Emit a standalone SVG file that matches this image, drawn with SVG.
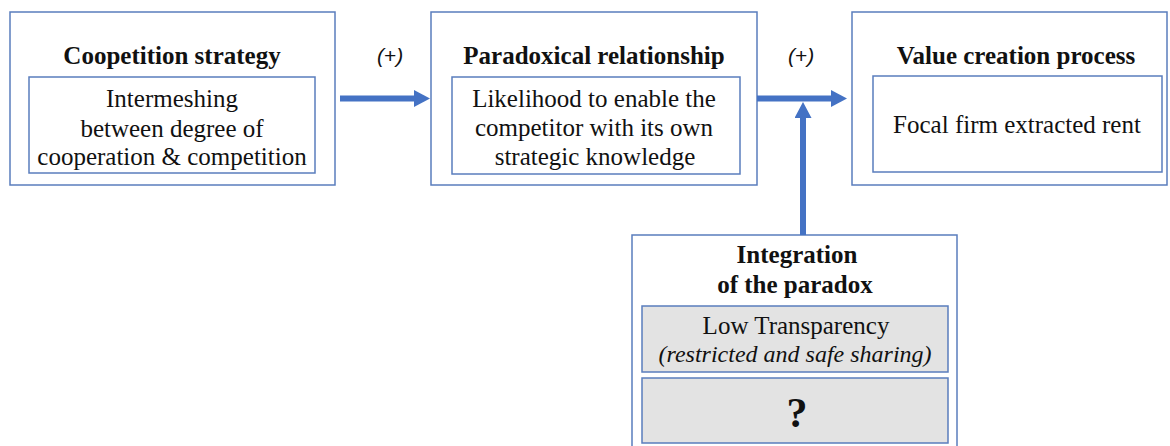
<svg xmlns="http://www.w3.org/2000/svg" width="1170" height="446" viewBox="0 0 1170 446">
<style>
.box{fill:#fff;stroke:#5a7dbd;stroke-width:1.5}
.gbox{fill:#e3e3e3;stroke:#5a7dbd;stroke-width:1.5}
.ln{stroke:#4472c4;stroke-width:6;fill:none}
.lbl{font-family:"Liberation Sans",sans-serif;font-style:italic;font-size:21px;fill:#111;text-anchor:middle}
</style>
<defs>
<marker id="ah" markerWidth="16" markerHeight="17" refX="1" refY="8.5" orient="auto" markerUnits="userSpaceOnUse">
<path d="M0,0 L16,8.5 L0,17 Z" fill="#4472c4"/>
</marker>
</defs>
<rect width="1170" height="446" fill="#fff"/>
<g font-family="Liberation Serif, serif" font-size="25" fill="#111" text-anchor="middle">
<g id="coopetition">
<rect class="box" x="10" y="12" width="325" height="173"/>
<text x="172" y="64" font-weight="bold">Coopetition strategy</text>
<rect class="box" x="29" y="77" width="286" height="96"/>
<text x="172" y="107">Intermeshing</text>
<text x="172" y="137">between degree of</text>
<text x="172" y="165">cooperation &amp; competition</text>
</g>
<g id="paradoxical">
<rect class="box" x="431" y="12" width="326" height="173"/>
<text x="594" y="64" font-weight="bold">Paradoxical relationship</text>
<rect class="box" x="452" y="77" width="288" height="97"/>
<text x="594" y="107">Likelihood to enable the</text>
<text x="594" y="136">competitor with its own</text>
<text x="595" y="165">strategic knowledge</text>
</g>
<g id="value">
<rect class="box" x="852" y="12" width="315" height="173"/>
<text x="1016" y="64" font-weight="bold">Value creation process</text>
<rect class="box" x="873" y="76" width="289" height="96"/>
<text x="1017" y="133">Focal firm extracted rent</text>
</g>
<g id="integration">
<rect class="box" x="632" y="235" width="325" height="220"/>
<text x="797" y="263" font-weight="bold">Integration</text>
<text x="795" y="293" font-weight="bold">of the paradox</text>
<rect class="gbox" x="642" y="306" width="306" height="66"/>
<text x="796" y="334">Low Transparency</text>
<text x="795" y="362" font-style="italic" font-size="24">(restricted and safe sharing)</text>
<rect class="gbox" x="642" y="378" width="306" height="65"/>
<text x="797" y="427" font-weight="bold" font-size="42">?</text>
</g>
</g>
<g id="connectors">
<line class="ln" x1="340" y1="98.5" x2="415" y2="98.5" marker-end="url(#ah)"/>
<line class="ln" x1="757" y1="98.5" x2="832" y2="98.5" marker-end="url(#ah)"/>
<line class="ln" x1="803" y1="235" x2="803" y2="117" marker-end="url(#ah)"/>
<text class="lbl" x="390" y="63">(+)</text>
<text class="lbl" x="801" y="63">(+)</text>
</g>
</svg>
